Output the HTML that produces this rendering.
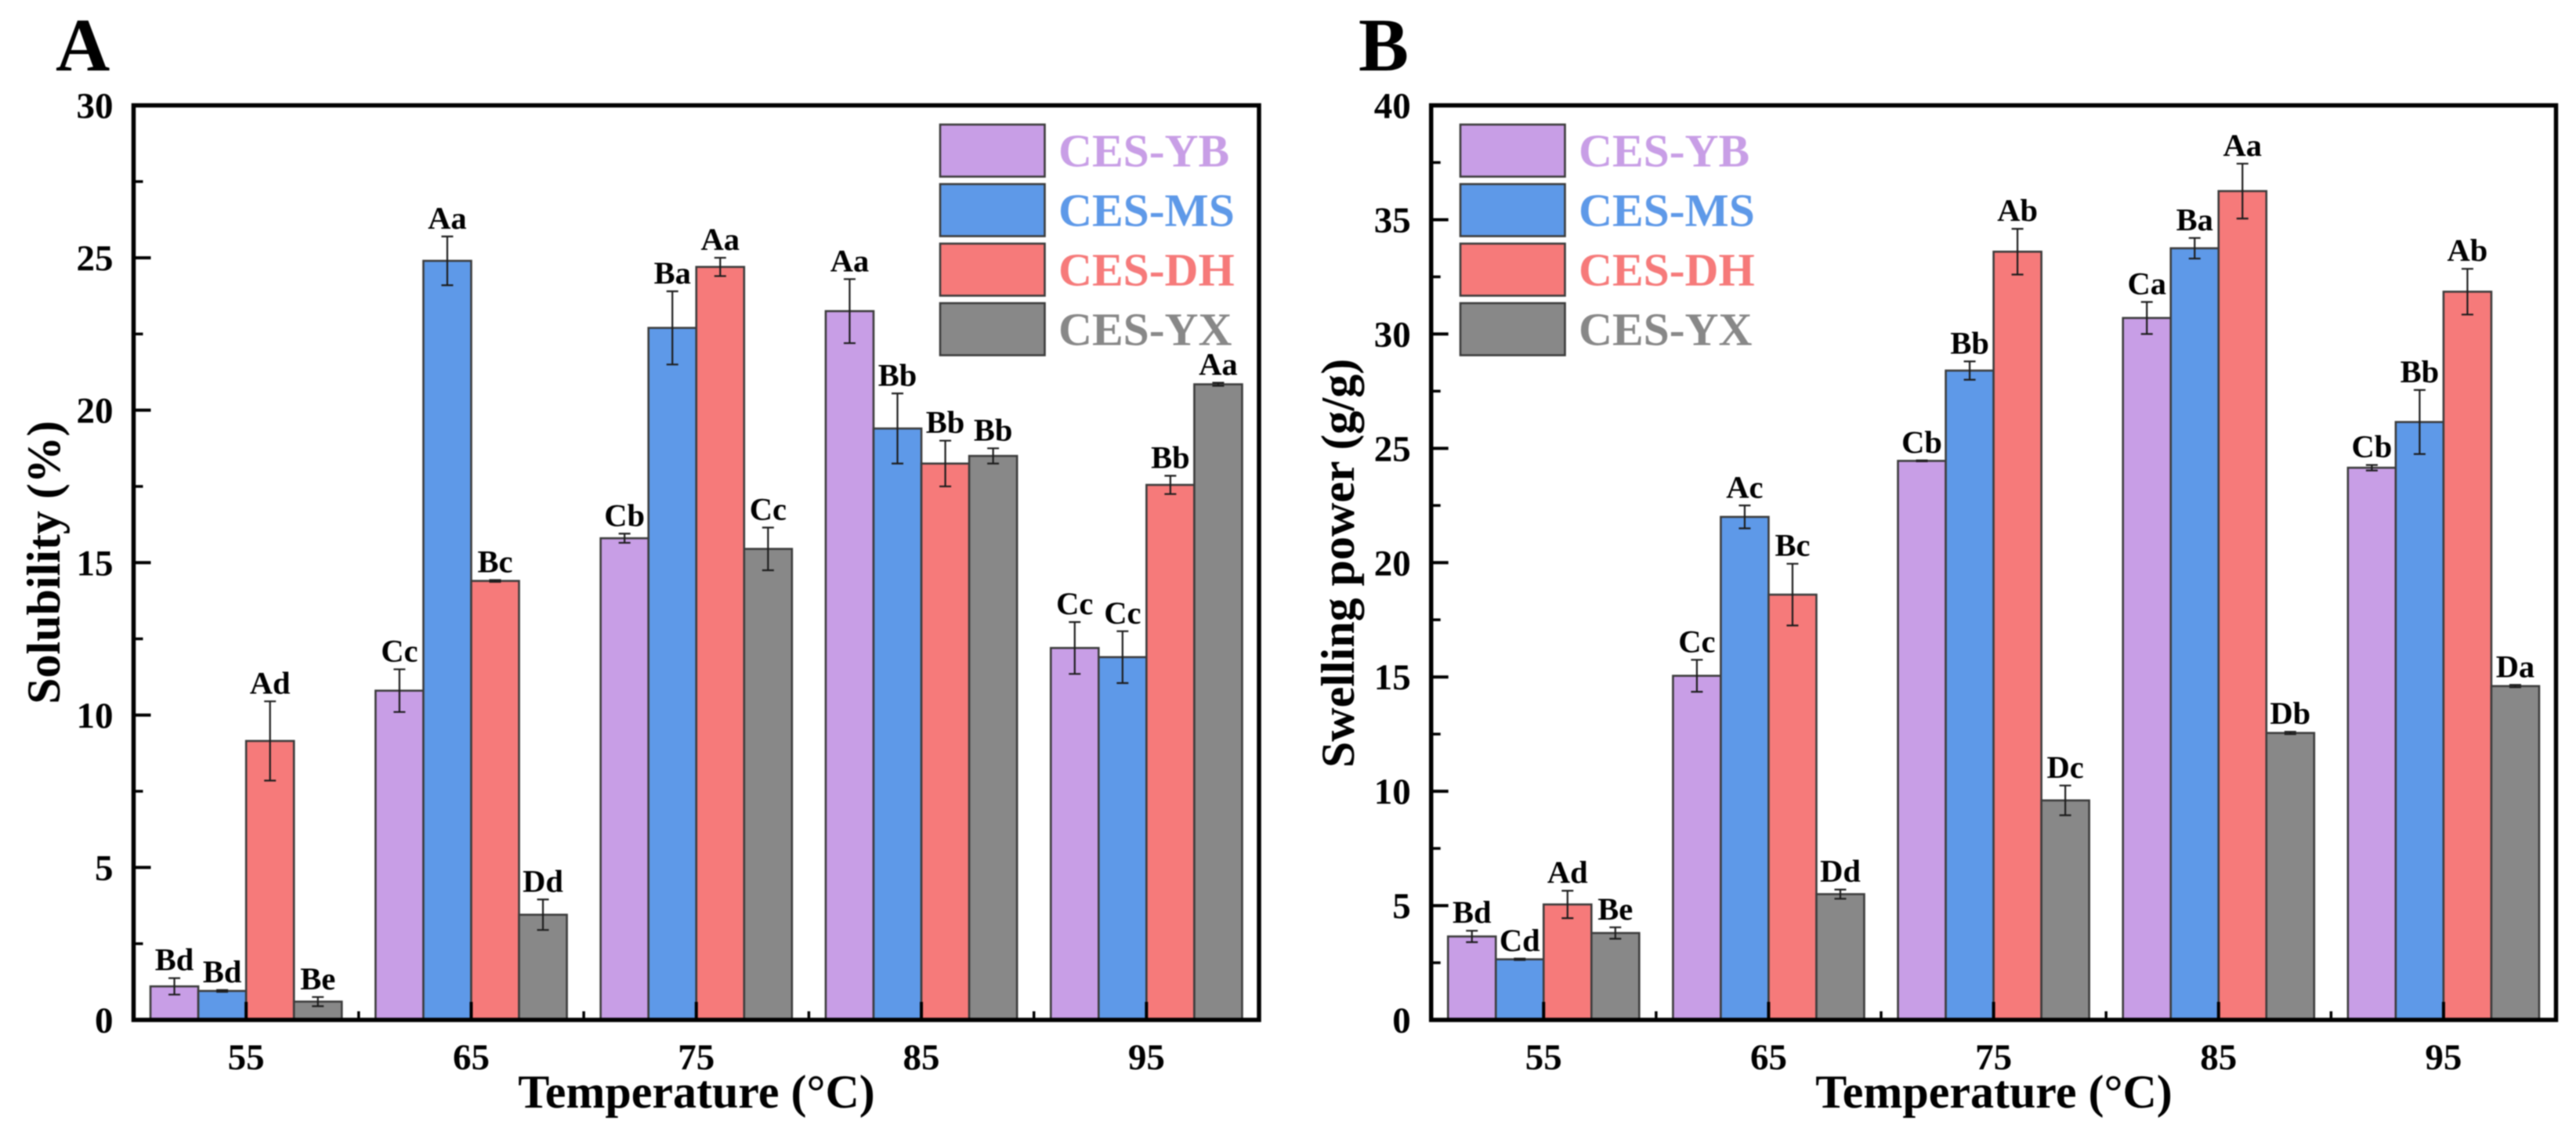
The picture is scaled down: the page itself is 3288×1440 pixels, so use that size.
<!DOCTYPE html>
<html lang="en">
<head>
<meta charset="utf-8">
<title>Solubility and swelling power of CES samples</title>
<style>
  html, body { margin: 0; padding: 0; background: #fff; width: 3288px; height: 1440px; overflow: hidden; }
  svg { display: block; filter: blur(0.7px); }
  text { font-family: "Liberation Serif", "Times New Roman", serif; font-weight: bold; fill: #000; }
</style>
</head>
<body>
<svg id="figure" xmlns="http://www.w3.org/2000/svg" width="3288" height="1440" viewBox="0 0 3288 1440">
  <rect x="0" y="0" width="3288" height="1440" fill="#fff"/>
  <text x="71" y="90" font-size="96">A</text>
  <text x="1734" y="90" font-size="96">B</text>
  <text x="889" y="1414" font-size="60" text-anchor="middle">Temperature (°C)</text>
  <text x="2545" y="1414" font-size="60" text-anchor="middle">Temperature (°C)</text>
  <text transform="translate(76 718) rotate(-90)" font-size="60" text-anchor="middle">Solubility (%)</text>
  <text transform="translate(1728 719) rotate(-90)" font-size="60" text-anchor="middle">Swelling power (g/g)</text>
</svg>
<script>
// ---- shared categories ----
const categories = ["55", "65", "75", "85", "95"];
const seriesNames = ["CES-YB", "CES-MS", "CES-DH", "CES-YX"];

// ---- panel A: solubility (%) ----
const solubilityYB = [1.1, 10.8, 15.8, 23.25, 12.2];
const solubilityMS = [0.95, 24.9, 22.7, 19.4, 11.9];
const solubilityDH = [9.15, 14.4, 24.7, 18.25, 17.55];
const solubilityYX = [0.6, 3.45, 15.45, 18.5, 20.85];
const solubilityErrYB = [0.27, 0.7, 0.15, 1.05, 0.85];
const solubilityErrMS = [0.03, 0.8, 1.2, 1.15, 0.85];
const solubilityErrDH = [1.3, 0.03, 0.3, 0.75, 0.3];
const solubilityErrYX = [0.15, 0.5, 0.7, 0.25, 0.05];
const solubilityLabelsYB = ["Bd", "Cc", "Cb", "Aa", "Cc"];
const solubilityLabelsMS = ["Bd", "Aa", "Ba", "Bb", "Cc"];
const solubilityLabelsDH = ["Ad", "Bc", "Aa", "Bb", "Bb"];
const solubilityLabelsYX = ["Be", "Dd", "Cc", "Bb", "Aa"];
const solubilityTicks = [0, 5, 10, 15, 20, 25, 30];

// ---- panel B: swelling power (g/g) ----
const swellingYB = [3.65, 15.05, 24.45, 30.7, 24.15];
const swellingMS = [2.65, 22, 28.4, 33.75, 26.15];
const swellingDH = [5.05, 18.6, 33.6, 36.25, 31.85];
const swellingYX = [3.8, 5.5, 9.6, 12.55, 14.6];
const swellingErrYB = [0.25, 0.7, 0.02, 0.7, 0.12];
const swellingErrMS = [0.03, 0.5, 0.4, 0.45, 1.4];
const swellingErrDH = [0.6, 1.35, 1, 1.2, 1];
const swellingErrYX = [0.25, 0.2, 0.65, 0.05, 0.05];
const swellingLabelsYB = ["Bd", "Cc", "Cb", "Ca", "Cb"];
const swellingLabelsMS = ["Cd", "Ac", "Bb", "Ba", "Bb"];
const swellingLabelsDH = ["Ad", "Bc", "Ab", "Aa", "Ab"];
const swellingLabelsYX = ["Be", "Dd", "Dc", "Db", "Da"];
const swellingTicks = [0, 5, 10, 15, 20, 25, 30, 35, 40];

const seriesColors = ["#C89EE6", "#5E99E8", "#F67A7A", "#888888"];
const svgNS = "http://www.w3.org/2000/svg";
const figure = document.getElementById("figure");

function make(tag, attrs, parent) {
  const node = document.createElementNS(svgNS, tag);
  for (const key in attrs) node.setAttribute(key, attrs[key]);
  parent.appendChild(node);
  return node;
}

function drawPanel(panel) {
  const top = 134.5, bottom = 1302;
  const plotW = panel.right - panel.left;
  const groupW = plotW / categories.length;
  const barW = groupW * 0.2125;
  const yMax = panel.ticks[panel.ticks.length - 1];
  const yScale = function (v) { return bottom - (v / yMax) * (bottom - top); };
  const xCenter = function (i) { return panel.left + (i + 0.5) * groupW; };
  const xBar = function (i, s) { return xCenter(i) + (s - seriesNames.length / 2) * barW; };

  const root = make("g", {}, figure);
  
  

  // bars, in series order
  panel.values.forEach(function (series, s) {
    series.forEach(function (v, i) {
      const bar = make("rect", {
        x: xBar(i, s), y: yScale(v), width: barW, height: bottom - yScale(v),
        fill: seriesColors[s], stroke: "#3c3c3c", "stroke-width": 2.6
      }, root);
      
      
    });
  });

  // error bars and significance letters
  panel.values.forEach(function (series, s) {
    series.forEach(function (v, i) {
      const cx = xBar(i, s) + barW / 2;
      const err = panel.errors[s][i];
      const hi = yScale(v + err), lo = yScale(v - err);
      const whisker = make("path", {
        d: "M" + cx + " " + hi + "V" + lo + "M" + (cx - 7.5) + " " + hi + "H" + (cx + 7.5) + "M" + (cx - 7.5) + " " + lo + "H" + (cx + 7.5),
        fill: "none", stroke: "#1c1c1c", "stroke-width": 2.2
      }, root);
      
      
      const letter = make("text", { x: cx, y: hi - 10, "font-size": 40.5, "text-anchor": "middle" }, root);
      letter.textContent = panel.labels[s][i];
      
      
    });
  });

  // axis frame
  const frame = make("rect", {
    x: panel.left, y: top, width: plotW, height: bottom - top,
    fill: "none", stroke: "#000", "stroke-width": 5.5
  }, root);
  
  

  // y axis ticks and labels
  const yStep = panel.ticks[1] - panel.ticks[0];
  panel.ticks.forEach(function (t, k) {
    const y = yScale(t);
    const tick = make("line", { x1: panel.left, x2: panel.left + 22, y1: y, y2: y, stroke: "#000", "stroke-width": 4 }, root);
    
    
    const label = make("text", { x: panel.left - 26, y: y + 16, "font-size": 47, "text-anchor": "end" }, root);
    label.textContent = String(t);
    
    
    if (k < panel.ticks.length - 1) {
      const ym = yScale(t + yStep / 2);
      const minor = make("line", { x1: panel.left, x2: panel.left + 12, y1: ym, y2: ym, stroke: "#000", "stroke-width": 3.5 }, root);
      
      
    }
  });

  // x axis ticks and labels
  categories.forEach(function (c, i) {
    const x = xCenter(i);
    const tick = make("line", { x1: x, x2: x, y1: bottom, y2: bottom - 23, stroke: "#000", "stroke-width": 4 }, root);
    
    
    const label = make("text", { x: x, y: 1365, "font-size": 47, "text-anchor": "middle" }, root);
    label.textContent = c;
    
    
    if (i < categories.length - 1) {
      const xm = x + groupW / 2;
      const minor = make("line", { x1: xm, x2: xm, y1: bottom, y2: bottom - 11, stroke: "#000", "stroke-width": 3.5 }, root);
      
      
    }
  });

  // legend
  const legendTops = [159, 235, 311, 387];
  seriesNames.forEach(function (name, s) {
    const y0 = legendTops[s];
    const swatch = make("rect", {
      x: panel.legendX, y: y0, width: 133.5, height: 66.5,
      fill: seriesColors[s], stroke: "#3c3c3c", "stroke-width": 2.6
    }, root);
    
    
    const text = make("text", { x: panel.legendX + 151, y: y0 + 53.5, "font-size": 59.5 }, root);
    text.style.fill = seriesColors[s];
    text.textContent = name;
    
    
  });
}

drawPanel({
  id: "a", left: 170.5, right: 1607, legendX: 1200, ticks: solubilityTicks,
  values: [solubilityYB, solubilityMS, solubilityDH, solubilityYX],
  errors: [solubilityErrYB, solubilityErrMS, solubilityErrDH, solubilityErrYX],
  labels: [solubilityLabelsYB, solubilityLabelsMS, solubilityLabelsDH, solubilityLabelsYX]
});
drawPanel({
  id: "b", left: 1826.7, right: 3262.5, legendX: 1864, ticks: swellingTicks,
  values: [swellingYB, swellingMS, swellingDH, swellingYX],
  errors: [swellingErrYB, swellingErrMS, swellingErrDH, swellingErrYX],
  labels: [swellingLabelsYB, swellingLabelsMS, swellingLabelsDH, swellingLabelsYX]
});
</script>
</body>
</html>
